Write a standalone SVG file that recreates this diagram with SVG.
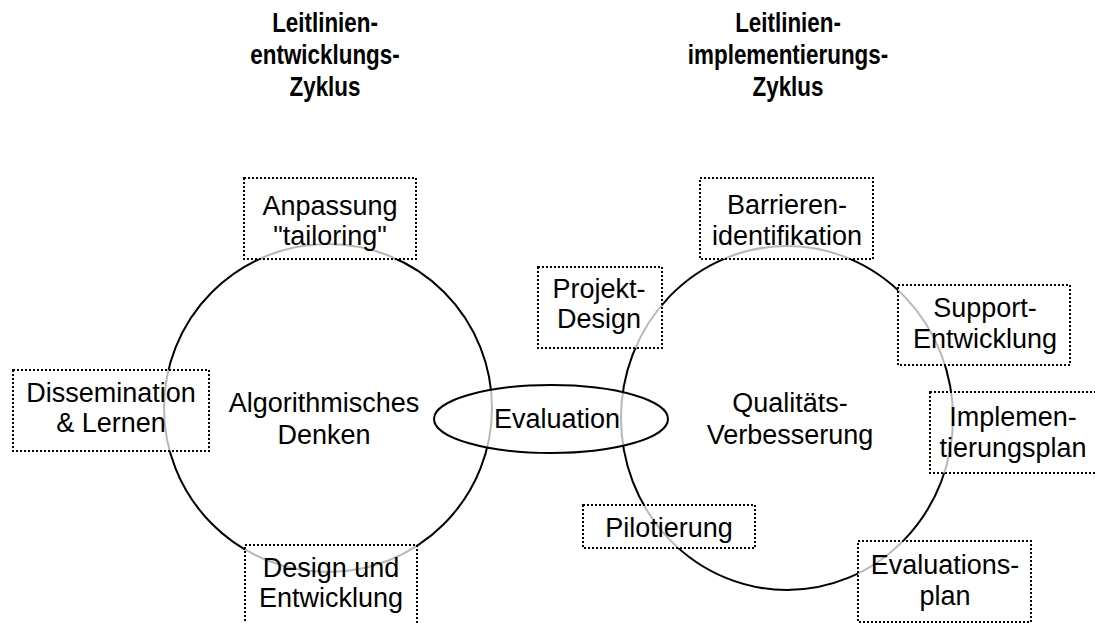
<svg xmlns="http://www.w3.org/2000/svg" width="1095" height="623" viewBox="0 0 1095 623">
<style>
.bg{fill:#fff}
.cyc{fill:none;stroke:#000;stroke-width:2}
.box{fill:#fff;fill-opacity:0.72;stroke:#000;stroke-width:2;stroke-dasharray:2 2}
.ell{fill:#fff;fill-opacity:0.72;stroke:#000;stroke-width:2}
.t{font-family:"Liberation Sans",Arial,sans-serif;font-size:27px;fill:#000;text-anchor:middle}
.h{font-family:"Liberation Sans",Arial,sans-serif;font-weight:bold;font-size:28px;fill:#000;text-anchor:middle}
</style>
<rect class="bg" x="0" y="0" width="1095" height="623"/>
<g id="headings">
<text class="h" transform="translate(325,32) scale(0.8,1)">Leitlinien-</text>
<text class="h" transform="translate(325,64) scale(0.8,1)">entwicklungs-</text>
<text class="h" transform="translate(325,96) scale(0.8,1)">Zyklus</text>
<text class="h" transform="translate(788,32) scale(0.8,1)">Leitlinien-</text>
<text class="h" transform="translate(788,64) scale(0.8,1)">implementierungs-</text>
<text class="h" transform="translate(788,96) scale(0.8,1)">Zyklus</text>
</g>
<g id="connectors">
<circle class="cyc" cx="328" cy="408" r="164"/>
<ellipse class="cyc" cx="787" cy="418" rx="166" ry="172"/>
</g>
<g id="node-evaluation">
<ellipse class="ell" cx="551" cy="419" rx="117" ry="34"/>
<text class="t" x="557" y="428">Evaluation</text>
</g>
<g id="node-algorithmisch">
<text class="t" x="324" y="412">Algorithmisches</text>
<text class="t" x="324" y="444">Denken</text>
</g>
<g id="node-qualitaet">
<text class="t" x="790" y="412">Qualitäts-</text>
<text class="t" x="790" y="444">Verbesserung</text>
</g>
<g id="node-anpassung">
<rect class="box" x="244" y="178" width="172" height="81"/>
<text class="t" x="330" y="215">Anpassung</text>
<text class="t" x="330" y="245">"tailoring"</text>
</g>
<g id="node-dissemination">
<rect class="box" x="13" y="370" width="196" height="81"/>
<text class="t" x="111" y="402">Dissemination</text>
<text class="t" x="111" y="432">&amp; Lernen</text>
</g>
<g id="node-design">
<rect class="box" x="245" y="545" width="172" height="82"/>
<text class="t" x="331" y="577">Design und</text>
<text class="t" x="331" y="607">Entwicklung</text>
</g>
<g id="node-projekt">
<rect class="box" x="538" y="267" width="124" height="81"/>
<text class="t" x="599" y="298">Projekt-</text>
<text class="t" x="599" y="328">Design</text>
</g>
<g id="node-barrieren">
<rect class="box" x="700" y="178" width="173" height="81"/>
<text class="t" x="787" y="214">Barrieren-</text>
<text class="t" x="787" y="245">identifikation</text>
</g>
<g id="node-support">
<rect class="box" x="898" y="285" width="172" height="80"/>
<text class="t" x="985" y="317">Support-</text>
<text class="t" x="985" y="348">Entwicklung</text>
</g>
<g id="node-implementierungsplan">
<rect class="box" x="930" y="392" width="170" height="81"/>
<text class="t" x="1013" y="426">Implemen-</text>
<text class="t" x="1013" y="457">tierungsplan</text>
</g>
<g id="node-pilotierung">
<rect class="box" x="583" y="505" width="172" height="43"/>
<text class="t" x="669" y="537">Pilotierung</text>
</g>
<g id="node-evaluationsplan">
<rect class="box" x="858" y="541" width="173" height="81"/>
<text class="t" x="945" y="574">Evaluations-</text>
<text class="t" x="945" y="605">plan</text>
</g>
</svg>
